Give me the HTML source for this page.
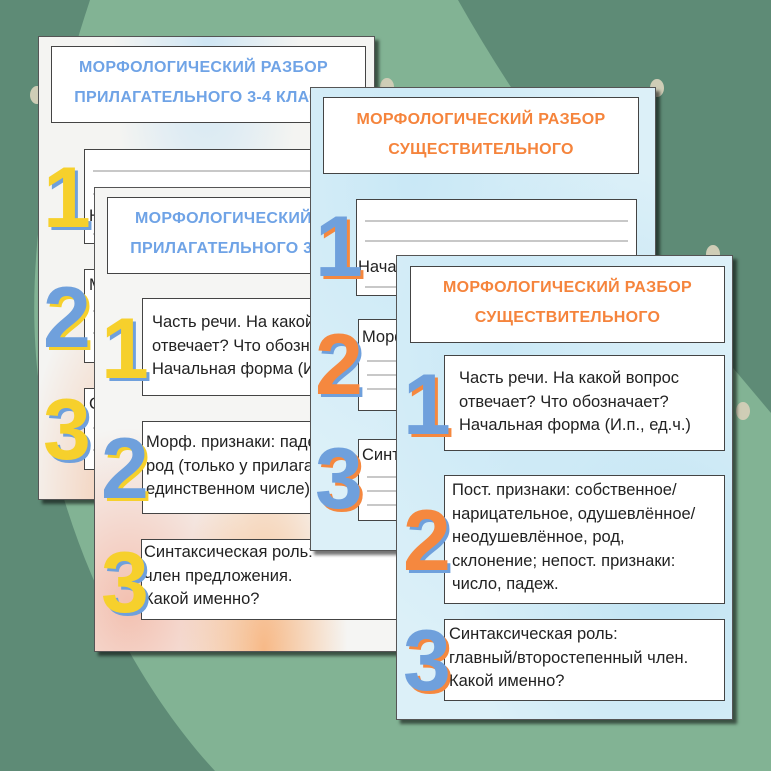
<!DOCTYPE html>
<html><head><meta charset="utf-8"><style>
*{margin:0;padding:0;box-sizing:border-box}
body{width:771px;height:771px;overflow:hidden;background:#82b394;position:relative;font-family:"Liberation Sans","DejaVu Sans",sans-serif}
.pg{position:absolute;overflow:hidden;border:1px solid #555;box-shadow:4px 4px 3px rgba(0,0,0,.55)}
.box{position:absolute;background:#fff;border:1.5px solid #444}
.ttl{position:absolute;left:0;right:0;text-align:center;font-weight:bold;font-size:16px;letter-spacing:0.3px;line-height:30px;white-space:nowrap}
.tx{position:absolute;font-size:16.5px;line-height:23.5px;color:#222;white-space:nowrap}
.n{position:absolute;font-weight:bold;font-size:86px;line-height:86px}
.y{color:#f6d02c;text-shadow:3px 3px 0 #6fa0dc}
.b{color:#6fa0dc;text-shadow:3px 3px 0 #f6d02c}
.bo{color:#6fa0dc;text-shadow:3px 3px 0 #f5883f}
.o{color:#f5883f;text-shadow:3px 3px 0 #6fa0dc}
.ln{position:absolute;left:8px;right:8px;height:1.5px;background:#c8c8c8}
.dot{position:absolute;width:14px;height:18px;border-radius:50%;background:#cfcdb6}
.blue{background:radial-gradient(ellipse at 30% 20%,#c9e8f6,transparent 60%),radial-gradient(ellipse at 80% 70%,#bfe3f3,transparent 55%),#dcf0f8}
</style></head><body>
<svg style="position:absolute;left:0;top:0" width="771" height="771">
<path d="M0,0 L90,0 C40,150 20,300 45,420 C70,560 140,690 215,771 L0,771 Z" fill="#5e8b76"/>
<path d="M458,0 Q520,110 600,210 L771,413 L771,0 Z" fill="#5e8b76"/>
</svg>
<div class="dot" style="left:30px;top:86px"></div>
<div class="dot" style="left:380px;top:78px"></div>
<div class="dot" style="left:650px;top:79px"></div>
<div class="dot" style="left:706px;top:245px"></div>
<div class="dot" style="left:736px;top:402px"></div>

<!-- Page A -->
<div class="pg" style="left:38px;top:36px;width:337px;height:464px;background:radial-gradient(ellipse at 50% 0%,#cfe6f4,transparent 40%),radial-gradient(ellipse at 30% 100%,#f3c5a8,transparent 35%),#f4f4f2">
 <div class="box" style="left:12px;top:9px;width:315px;height:77px"><div class="ttl" style="top:6px;left:-10px;color:#6fa3e6">МОРФОЛОГИЧЕСКИЙ РАЗБОР<br>ПРИЛАГАТЕЛЬНОГО 3-4 КЛАСС</div></div>
 <div class="box" style="left:45px;top:112px;width:300px;height:95px"><div class="ln" style="top:20px"></div><div class="ln" style="top:43px"></div><div class="tx" style="left:4px;top:55px">Н</div><div class="ln" style="top:83px"></div></div>
 <div class="n y" style="left:4px;top:118px">1</div>
 <div class="box" style="left:45px;top:232px;width:300px;height:94px"><div class="tx" style="left:4px;top:4px">М</div><div class="ln" style="top:40px"></div><div class="ln" style="top:62px"></div></div>
 <div class="n b" style="left:4px;top:238px">2</div>
 <div class="box" style="left:45px;top:351px;width:300px;height:82px"><div class="tx" style="left:4px;top:4px">С</div><div class="ln" style="top:38px"></div><div class="ln" style="top:60px"></div></div>
 <div class="n y" style="left:4px;top:350px">3</div>
</div>

<!-- Page B -->
<div class="pg" style="left:94px;top:187px;width:340px;height:465px;background:radial-gradient(ellipse at 50% 100%,#f7b987,transparent 35%),radial-gradient(ellipse at 10% 90%,#f3c0b0,transparent 30%),#f5f5f3">
 <div class="box" style="left:12px;top:9px;width:315px;height:77px"><div class="ttl" style="top:6px;left:-10px;color:#6fa3e6">МОРФОЛОГИЧЕСКИЙ РАЗБОР<br>ПРИЛАГАТЕЛЬНОГО 3-4 КЛАСС</div></div>
 <div class="box" style="left:47px;top:110px;width:285px;height:98px"><div class="tx" style="left:9px;top:12px">Часть речи. На какой вопрос<br>отвечает? Что обозначает?<br>Начальная форма (И.п., ед.ч.)</div></div>
 <div class="n y" style="left:6px;top:118px">1</div>
 <div class="box" style="left:47px;top:233px;width:285px;height:93px"><div class="tx" style="left:3px;top:9px">Морф. признаки: падеж, число,<br>род (только у прилагательных в<br>единственном числе)</div></div>
 <div class="n b" style="left:6px;top:238px">2</div>
 <div class="box" style="left:46px;top:351px;width:285px;height:81px"><div class="tx" style="left:2px;top:1px">Синтаксическая роль:<br>член предложения.<br>Какой именно?</div></div>
 <div class="n y" style="left:6px;top:352px">3</div>
</div>

<!-- Page C -->
<div class="pg blue" style="left:310px;top:87px;width:346px;height:464px">
 <div class="box" style="left:12px;top:9px;width:316px;height:77px"><div class="ttl" style="top:7px;color:#f5843c">МОРФОЛОГИЧЕСКИЙ РАЗБОР<br>СУЩЕСТВИТЕЛЬНОГО</div></div>
 <div class="box" style="left:45px;top:111px;width:281px;height:97px"><div class="ln" style="top:20px"></div><div class="ln" style="top:40px"></div><div class="tx" style="left:1px;top:56px">Начальная форма</div><div class="ln" style="top:86px"></div></div>
 <div class="n bo" style="left:4px;top:116px">1</div>
 <div class="box" style="left:47px;top:231px;width:279px;height:92px"><div class="tx" style="left:3px;top:6px">Морф. признаки</div><div class="ln" style="top:40px"></div><div class="ln" style="top:54px"></div><div class="ln" style="top:68px"></div></div>
 <div class="n o" style="left:4px;top:234px">2</div>
 <div class="box" style="left:47px;top:351px;width:279px;height:82px"><div class="tx" style="left:3px;top:4px">Синтаксическая роль</div><div class="ln" style="top:36px"></div><div class="ln" style="top:50px"></div><div class="ln" style="top:64px"></div></div>
 <div class="n bo" style="left:4px;top:348px">3</div>
</div>

<!-- Page D -->
<div class="pg blue" style="left:396px;top:255px;width:337px;height:465px">
 <div class="box" style="left:13px;top:10px;width:315px;height:77px"><div class="ttl" style="top:6px;color:#f5843c">МОРФОЛОГИЧЕСКИЙ РАЗБОР<br>СУЩЕСТВИТЕЛЬНОГО</div></div>
 <div class="box" style="left:47px;top:99px;width:281px;height:96px"><div class="tx" style="left:14px;top:11px">Часть речи. На какой вопрос<br>отвечает? Что обозначает?<br>Начальная форма (И.п., ед.ч.)</div></div>
 <div class="n bo" style="left:6px;top:106px">1</div>
 <div class="box" style="left:47px;top:219px;width:281px;height:129px"><div class="tx" style="left:7px;top:3px">Пост. признаки: собственное/<br>нарицательное, одушевлённое/<br>неодушевлённое, род,<br>склонение; непост. признаки:<br>число, падеж.</div></div>
 <div class="n o" style="left:6px;top:242px">2</div>
 <div class="box" style="left:47px;top:363px;width:281px;height:82px"><div class="tx" style="left:4px;top:3px">Синтаксическая роль:<br>главный/второстепенный член.<br>Какой именно?</div></div>
 <div class="n bo" style="left:6px;top:362px">3</div>
</div>
</body></html>
